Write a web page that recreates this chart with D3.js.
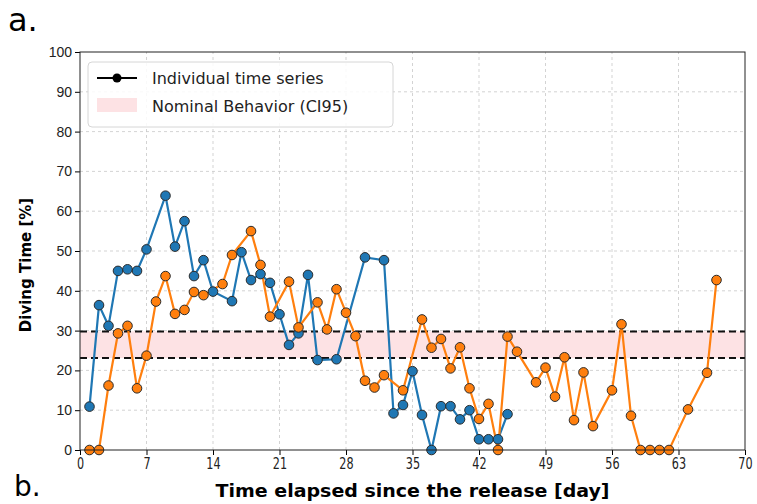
<!DOCTYPE html>
<html>
<head>
<meta charset="utf-8">
<script src="https://cdn.jsdelivr.net/npm/d3@7"></script>
<style>
body { margin: 0; background: #fff; }
svg { font-family: "DejaVu Sans", sans-serif; }
.grid line { stroke: #c8c8c8; stroke-dasharray: 3,3; stroke-width: 0.8; }
.tick text { fill: #222; }
</style>
</head>
<body>
<div id="chart"></div>
<script>
const width = 757;
const height = 504;
const margin = {top: 52, right: 12, bottom: 54, left: 80};

// series A (blue)
const blueDays = [1,2,3,4,5,6,7,9,10,11,12,13,14,16,17,18,19,20,21,22,23,24,25,27,30,32,33,34,35,36,37,38,39,40,41,42,43,44,45];
const blueVals = [10.9,36.4,31.2,45,45.4,45,50.4,63.9,51.1,57.5,43.7,47.7,39.8,37.4,49.7,42.7,44.2,42,34.1,26.4,29.3,44,22.6,22.8,48.4,47.7,9.2,11.3,19.8,8.8,0,11,11,7.7,10,2.7,2.7,2.7,9];

// series B (orange)
const orangeDays = [1,2,3,4,5,6,7,8,9,10,11,12,13,15,16,18,19,20,22,23,25,26,27,28,29,30,31,32,34,36,37,38,39,40,41,42,43,44,45,46,48,49,50,51,52,53,54,56,57,58,59,60,61,62,64,66,67];
const orangeVals = [0,0,16.2,29.3,31.2,15.5,23.7,37.3,43.7,34.2,35.2,39.7,38.9,41.7,49,55,46.5,33.5,42.3,30.8,37.1,30.3,40.4,34.5,28.6,17.4,15.7,18.8,15,32.8,25.7,27.9,20.5,25.8,15.5,7.8,11.6,0,28.5,24.7,17,20.7,13.4,23.3,7.5,19.5,6,15,31.6,8.6,0,0,0,0,10.2,19.4,42.7];

// nominal band (CI95)
const bandLow = 23.1;
const bandHigh = 29.8;

const xTicks = [0,7,14,21,28,35,42,49,56,63,70];
const yTicks = [0,10,20,30,40,50,60,70,80,90,100];

const svg = d3.select("#chart").append("svg")
    .attr("width", width)
    .attr("height", height);

const xScale = d3.scaleLinear().domain([0, 70]).range([margin.left, width - margin.right]);
const yScale = d3.scaleLinear().domain([0, 100]).range([height - margin.bottom, margin.top]);

// grid
svg.append("g")
    .attr("class", "grid")
    .selectAll("line.v")
    .data(xTicks.slice(1, -1))
    .enter().append("line")
    .attr("x1", d => xScale(d)).attr("x2", d => xScale(d))
    .attr("y1", yScale(0)).attr("y2", yScale(100));

svg.append("g")
    .attr("class", "grid")
    .selectAll("line.h")
    .data(yTicks.slice(1, -1))
    .enter().append("line")
    .attr("x1", xScale(0)).attr("x2", xScale(70))
    .attr("y1", d => yScale(d)).attr("y2", d => yScale(d));

// band
svg.append("rect")
    .attr("x", xScale(0))
    .attr("width", xScale(70) - xScale(0))
    .attr("y", yScale(bandHigh))
    .attr("height", yScale(bandLow) - yScale(bandHigh))
    .style("fill", "#fde2e4");

[bandLow, bandHigh].forEach(v => {
    svg.append("line")
        .attr("x1", xScale(0)).attr("x2", xScale(70))
        .attr("y1", yScale(v)).attr("y2", yScale(v))
        .style("stroke", "#111")
        .style("stroke-width", 2)
        .style("stroke-dasharray", "7,4");
});

// series
const series = [
    {days: blueDays, vals: blueVals, color: "#1f77b4"},
    {days: orangeDays, vals: orangeVals, color: "#ff7f0e"}
];

const line = d3.line()
    .x(d => xScale(d[0]))
    .y(d => yScale(d[1]));

const plot = svg.append("g");

series.forEach(s => {
    const pts = s.days.map((d, i) => [d, s.vals[i]]);
    plot.append("path")
        .attr("d", line(pts))
        .style("fill", "none")
        .style("stroke", s.color)
        .style("stroke-width", 2.2);
});

series.forEach(s => {
    const pts = s.days.map((d, i) => [d, s.vals[i]]);
    plot.selectAll(null)
        .data(pts)
        .enter().append("circle")
        .attr("cx", d => xScale(d[0]))
        .attr("cy", d => yScale(d[1]))
        .attr("r", 4.8)
        .style("fill", s.color)
        .style("stroke", "#2b2b2b")
        .style("stroke-width", 1);
});

// axes
const xaxis = d3.axisBottom(xScale).tickValues(xTicks).tickSize(5).tickPadding(3);
const yaxis = d3.axisLeft(yScale).tickValues(yTicks).tickSize(5).tickPadding(3);

svg.append("g")
    .attr("transform", "translate(0," + yScale(0) + ")")
    .call(xaxis)
    .call(g => g.select(".domain").remove())
    .selectAll("text")
    .style("font-size", "16px")
    .style("font-family", "'DejaVu Sans Condensed', 'DejaVu Sans', sans-serif")
    .attr("transform", "scale(0.78,1)");

svg.append("g")
    .attr("transform", "translate(" + xScale(0) + ",0)")
    .call(yaxis)
    .call(g => g.select(".domain").remove())
    .selectAll("text")
    .style("font-size", "14px");

// frame
svg.append("rect")
    .attr("x", xScale(0))
    .attr("y", yScale(100))
    .attr("width", xScale(70) - xScale(0))
    .attr("height", yScale(0) - yScale(100))
    .style("fill", "none")
    .style("stroke", "#222")
    .style("stroke-width", 1);

// labels
svg.append("text")
    .attr("x", (xScale(0) + xScale(70)) / 2)
    .attr("y", 497)
    .attr("text-anchor", "middle")
    .style("font-weight", "bold")
    .style("font-size", "18px")
    .style("font-family", "'DejaVu Sans Condensed', 'DejaVu Sans', sans-serif")
    .attr("textLength", 394)
    .attr("lengthAdjust", "spacingAndGlyphs")
    .text("Time elapsed since the release [day]");

svg.append("text")
    .attr("transform", "translate(31," + ((yScale(0) + yScale(100)) / 2 + 14) + ") rotate(-90)")
    .attr("text-anchor", "middle")
    .style("font-weight", "bold")
    .style("font-size", "15px")
    .text("Diving Time [%]");

svg.append("text")
    .attr("x", 8)
    .attr("y", 31)
    .style("font-size", "32px")
    .text("a.");

svg.append("text")
    .attr("x", 14)
    .attr("y", 496)
    .style("font-size", "28px")
    .text("b.");

// legend
const legend = svg.append("g");
legend.append("rect")
    .attr("x", 88).attr("y", 62)
    .attr("width", 305).attr("height", 65)
    .attr("rx", 4)
    .style("fill", "rgba(255,255,255,0.85)")
    .style("stroke", "#d6d6d6");

legend.append("line")
    .attr("x1", 97).attr("x2", 137)
    .attr("y1", 78).attr("y2", 78)
    .style("stroke", "#000")
    .style("stroke-width", 2);
legend.append("circle")
    .attr("cx", 117).attr("cy", 78).attr("r", 4.5)
    .style("fill", "#000");
legend.append("text")
    .attr("x", 152).attr("y", 84)
    .style("font-size", "16px")
    .style("fill", "#222")
    .text("Individual time series");

legend.append("rect")
    .attr("x", 97).attr("y", 98)
    .attr("width", 40).attr("height", 14)
    .style("fill", "#fde2e4");
legend.append("text")
    .attr("x", 152).attr("y", 112)
    .style("font-size", "16px")
    .style("fill", "#222")
    .text("Nominal Behavior (CI95)");
</script>
</body>
</html>
